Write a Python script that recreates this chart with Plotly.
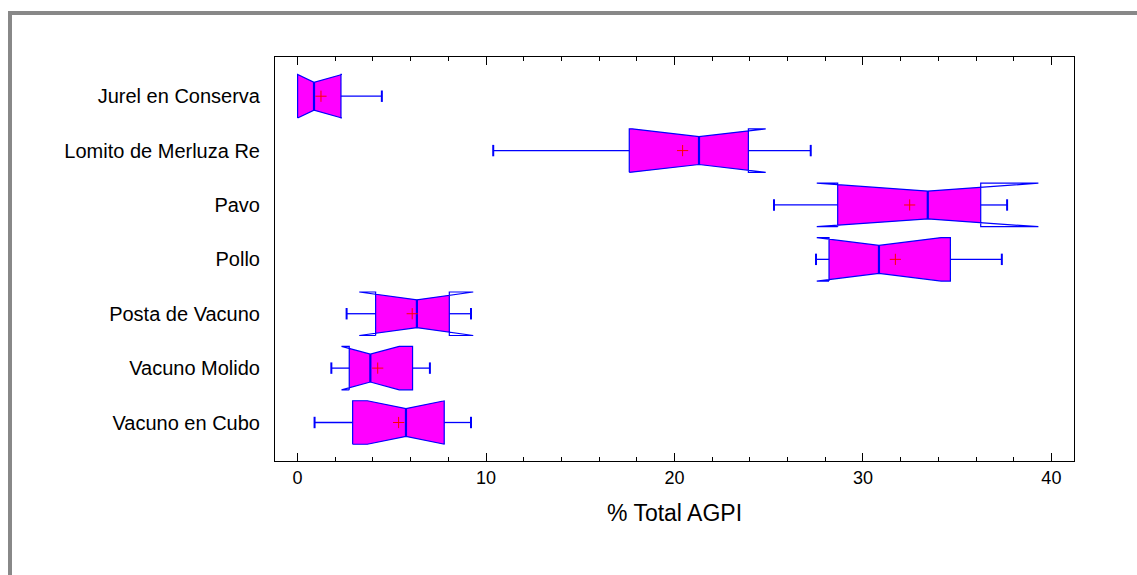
import plotly.graph_objects as go

# ---------------- data ----------------
categories = ["Jurel en Conserva", "Lomito de Merluza Re", "Pavo", "Pollo",
              "Posta de Vacuno", "Vacuno Molido", "Vacuno en Cubo"]
whisker_lo = [0.00, 10.38, 25.28, 27.51, 2.60, 1.79, 0.90]
q1         = [0.00, 17.60, 28.66, 28.20, 4.14, 2.74, 2.92]
median     = [0.87, 21.30, 33.44, 30.85, 6.33, 3.86, 5.75]
q3         = [2.30, 23.92, 36.25, 34.64, 8.05, 6.10, 7.78]
whisker_hi = [4.47, 27.23, 37.65, 37.37, 9.20, 7.02, 9.20]
means      = [1.24, 20.43, 32.48, 31.72, 6.08, 4.25, 5.36]
notch_lo   = [0.00, 17.76, 27.55, 27.55, 3.27, 2.33, 3.70]
notch_hi   = [2.35, 24.84, 39.31, 34.15, 9.32, 5.39, 7.80]
x_ticks = [0, 10, 20, 30, 40]
x_title = "% Total AGPI"

# ---------------- geometry / style ----------------
W, Hpx = 1137, 575
ML, MR, MT, MB = 275, 63, 57, 114
H = 0.40      # half box height (category units)
N = 0.256     # half height at notch
C = 0.105     # half whisker-cap height
FILL = "#FF00FF"
EDGE = "#0000FF"
FONT = "Liberation Sans, Arial, sans-serif"

n = len(categories)
pos = [n - 1 - i for i in range(n)]

fig = go.Figure()

def edge_y(x, lo, med, hi):
    if x <= med:
        if x <= lo:
            return H
        return H - (H - N) * (x - lo) / (med - lo)
    if x >= hi:
        return H
    return N + (H - N) * (x - med) / (hi - med)

# fills
for i in range(n):
    a, b, m = q1[i], q3[i], median[i]
    xs = sorted(set([a, b, m, min(max(notch_lo[i], a), b), min(max(notch_hi[i], a), b)]))
    top = [(x, pos[i] + edge_y(x, notch_lo[i], m, notch_hi[i])) for x in xs]
    bot = [(x, pos[i] - edge_y(x, notch_lo[i], m, notch_hi[i])) for x in reversed(xs)]
    pts = top + bot
    fig.add_trace(go.Scatter(x=[p[0] for p in pts] + [pts[0][0]],
                             y=[p[1] for p in pts] + [pts[0][1]],
                             mode="lines", fill="toself", fillcolor=FILL,
                             line=dict(width=0), hoverinfo="skip", showlegend=False))

# outlines (notched path)
ox, oy = [], []
for i in range(n):
    p = pos[i]
    ox += [q1[i], q1[i], notch_lo[i], median[i], notch_hi[i], q3[i], q3[i],
           notch_hi[i], median[i], notch_lo[i], q1[i], None]
    oy += [p - H, p + H, p + H, p + N, p + H, p + H, p - H,
           p - H, p - N, p - H, p - H, None]
fig.add_trace(go.Scatter(x=ox, y=oy, mode="lines", line=dict(color=EDGE, width=1.2),
                         hoverinfo="skip", showlegend=False))

# medians
mx, my = [], []
for i in range(n):
    mx += [median[i], median[i], None]
    my += [pos[i] - N, pos[i] + N, None]
fig.add_trace(go.Scatter(x=mx, y=my, mode="lines", line=dict(color=EDGE, width=2.2),
                         hoverinfo="skip", showlegend=False))

# whiskers
wx, wy = [], []
for i in range(n):
    wx += [whisker_lo[i], q1[i], None, q3[i], whisker_hi[i], None]
    wy += [pos[i], pos[i], None, pos[i], pos[i], None]
fig.add_trace(go.Scatter(x=wx, y=wy, mode="lines", line=dict(color=EDGE, width=1.3),
                         hoverinfo="skip", showlegend=False))
cx, cy = [], []
for i in range(n):
    for v in (whisker_lo[i], whisker_hi[i]):
        if v < q1[i] or v > q3[i]:
            cx += [v, v, None]
            cy += [pos[i] - C, pos[i] + C, None]
fig.add_trace(go.Scatter(x=cx, y=cy, mode="lines", line=dict(color=EDGE, width=2),
                         hoverinfo="skip", showlegend=False))

# means
fig.add_trace(go.Scatter(x=means, y=pos, mode="markers",
                         marker=dict(symbol="cross-thin", size=8,
                                     line=dict(color="#FF0000", width=1)),
                         hoverinfo="skip", showlegend=False))

# outer grey frame (top and left), pixel -> paper
pw, ph = W - ML - MR, Hpx - MT - MB
def px(x): return (x - ML) / pw
def py(y): return (Hpx - MB - y) / ph
fig.add_shape(type="rect", xref="paper", yref="paper", x0=px(8), x1=px(1137),
              y0=py(15), y1=py(11), fillcolor="#888888", line=dict(width=0), layer="below")
fig.add_shape(type="rect", xref="paper", yref="paper", x0=px(8), x1=px(12),
              y0=py(575), y1=py(11), fillcolor="#888888", line=dict(width=0), layer="below")

fig.update_layout(
    width=W, height=Hpx,
    margin=dict(l=ML, r=MR, t=MT, b=MB),
    paper_bgcolor="white", plot_bgcolor="white",
    font=dict(family=FONT, color="black", size=18),
    xaxis=dict(range=[-1.2, 41.2], tickvals=x_ticks, ticks="inside", ticklen=8,
               tickcolor="black", tickwidth=1, showline=True, linecolor="black",
               linewidth=1, mirror="ticks", showgrid=False, zeroline=False,
               minor=dict(dtick=2, ticks="inside", ticklen=4, tickcolor="black", showgrid=False),
               tickfont=dict(size=18),
               title=dict(text=x_title, font=dict(size=23), standoff=18)),
    yaxis=dict(range=[-0.708, 6.721], tickvals=pos, ticktext=categories, ticks="",
               showline=True, linecolor="black", linewidth=1, mirror=True,
               showgrid=False, zeroline=False, tickfont=dict(size=20),
               ticklabelstandoff=10),
)

fig.write_html("out.html")
